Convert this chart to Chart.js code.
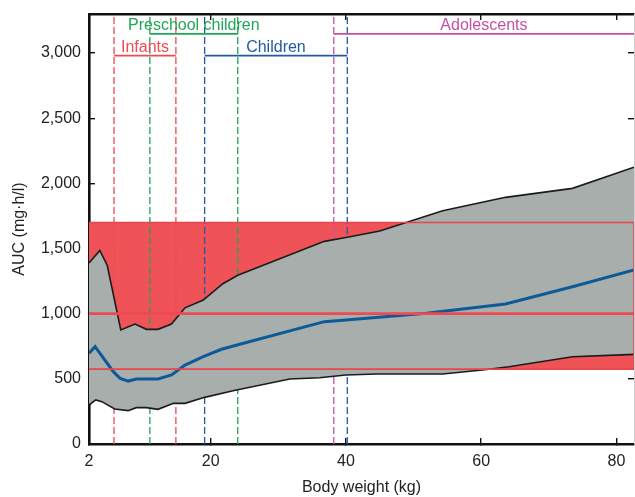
<!DOCTYPE html>
<html>
<head>
<meta charset="utf-8">
<script src="https://cdn.jsdelivr.net/npm/chart.js@4.4.0/dist/chart.umd.min.js"></script>
<style>
  html, body { margin: 0; padding: 0; background: #fff; }
</style>
</head>
<body>
<canvas id="aucChart" width="635" height="497"></canvas>
<script>
// body weight axis (kg) and AUC axis (mg.h/l)
const xMin = 2, xMax = 82.6;
const yMin = 0, yMax = 3300;
const xTicks = [2, 20, 40, 60, 80];
const yTicks = [0, 500, 1000, 1500, 2000, 2500, 3000];

// 90th percentile (upper edge of grey band)
const upperWeight = [2, 3.6, 4.7, 6.7, 8.8, 10.5, 12.2, 14.2, 16.2, 18.9, 21.8, 24, 36.8, 40, 45, 48.9, 54.3, 63.6, 73.5, 82.6];
const upperAuc    = [1390, 1485, 1370, 875, 920, 880, 880, 920, 1045, 1105, 1230, 1295, 1555, 1585, 1635, 1700, 1790, 1893, 1962, 2124];

// median
const medianWeight = [2, 2.9, 5.6, 6.6, 7.8, 9, 12.2, 14.2, 16.2, 18.9, 21.6, 24.3, 36.8, 40, 51.9, 63.6, 73.5, 82.6];
const medianAuc    = [696, 747, 555, 504, 483, 499, 499, 530, 606, 670, 727, 765, 939, 951, 1003, 1074, 1207, 1335];

// 10th percentile (lower edge of grey band)
const lowerWeight = [2, 3, 3.9, 5.8, 7.8, 9, 10.5, 12.2, 14.5, 16.2, 19.1, 23.3, 31.7, 36.1, 40, 44.5, 54.3, 60.2, 64.1, 73.5, 82.6];
const lowerAuc    = [299, 338, 325, 269, 256, 279, 279, 266, 312, 312, 358, 409, 499, 509, 530, 537, 537, 568, 593, 670, 688];

// target range
const bandLow = 575, bandHigh = 1700, targetAuc = 1000;

// age groups (kg ranges) and the level of their brackets
const groupNames  = ['Infants', 'Preschool children', 'Children', 'Adolescents'];
const groupRanges = [[5.7, 14.85], [11.0, 24.0], [19.1, 40.2], [38.2, 82.6]];
const groupLevels = [2980, 3147, 2980, 3147];
const groupColors = ['#ee4a50', '#1ea756', '#2359a0', '#c64fa6'];

const fontFam = "'Liberation Sans', Arial, sans-serif";

function pts(xs, ys) {
  return xs.map((x, i) => ({ x: x, y: ys[i] }));
}

const datasets = [];

// brackets on top
groupRanges.forEach((r, i) => {
  datasets.push({
    data: [{ x: r[0], y: groupLevels[i] }, { x: r[1], y: groupLevels[i] }],
    borderColor: groupColors[i], borderWidth: 1.8, pointRadius: 0, fill: false, order: 0
  });
});

// target range outline and target line
datasets.push({
  data: [{ x: xMin, y: bandHigh }, { x: xMax, y: bandHigh }, { x: xMax, y: bandLow }, { x: xMin, y: bandLow }],
  borderColor: '#e8464c', borderWidth: 1.6, pointRadius: 0, fill: false, order: 1
});
datasets.push({
  data: [{ x: xMin, y: targetAuc }, { x: xMax, y: targetAuc }],
  borderColor: '#ee4a50', borderWidth: 2.8, pointRadius: 0, fill: false, order: 1
});

// median
datasets.push({
  data: pts(medianWeight, medianAuc),
  borderColor: '#0d5a99', borderWidth: 3, pointRadius: 0, fill: false, order: 2
});

// grey band
const lowerIndex = datasets.length + 1;
datasets.push({
  data: pts(upperWeight, upperAuc),
  borderColor: '#1b1b1b', borderWidth: 1.6, pointRadius: 0,
  backgroundColor: '#a8aeac', fill: lowerIndex, order: 4
});
datasets.push({
  data: pts(lowerWeight, lowerAuc),
  borderColor: '#1b1b1b', borderWidth: 1.6, pointRadius: 0, fill: false, order: 3
});

// dashed group boundaries
groupRanges.forEach((r, i) => {
  r.forEach(x => {
    if (x >= xMax) return;
    datasets.push({
      data: [{ x: x, y: yMin }, { x: x, y: yMax }],
      borderColor: groupColors[i], borderWidth: 1.3, borderDash: [7, 3],
      pointRadius: 0, fill: false, order: 5
    });
  });
});

// target range fill
const bandLowIndex = datasets.length + 1;
datasets.push({
  data: [{ x: xMin, y: bandHigh }, { x: xMax, y: bandHigh }],
  borderWidth: 0, borderColor: 'rgba(0,0,0,0)', pointRadius: 0,
  backgroundColor: '#ef5358', fill: bandLowIndex, order: 6
});
datasets.push({
  data: [{ x: xMin, y: bandLow }, { x: xMax, y: bandLow }],
  borderWidth: 0, borderColor: 'rgba(0,0,0,0)', pointRadius: 0, fill: false, order: 7
});

const groupLabels = {
  id: 'groupLabels',
  afterDatasetsDraw(chart) {
    const ctx = chart.ctx;
    const xs = chart.scales.x, ys = chart.scales.y;
    ctx.save();
    ctx.font = '16px ' + fontFam;
    ctx.textAlign = 'center';
    ctx.textBaseline = 'middle';
    groupNames.forEach((name, i) => {
      const cx = (xs.getPixelForValue(groupRanges[i][0]) + xs.getPixelForValue(groupRanges[i][1])) / 2;
      const cy = ys.getPixelForValue(groupLevels[i]) - 8;
      ctx.fillStyle = groupColors[i];
      ctx.fillText(name, cx, cy);
    });
    ctx.restore();
  }
};

const tickGrid = { display: true, drawOnChartArea: false, drawTicks: true, tickLength: -6, color: '#111', lineWidth: 1.4 };
const axisBorder = { display: true, color: '#111', width: 2.6 };
const setXTicks = s => { s.ticks = xTicks.map(v => ({ value: v })); };
const setYTicks = s => { s.ticks = yTicks.map(v => ({ value: v })); };
// fixed box sizes, no label overhang padding
const fixBox = (w, h) => s => {
  if (w !== null) s.width = w;
  if (h !== null) s.height = h;
  s.paddingTop = 0; s.paddingBottom = 0; s.paddingLeft = 0; s.paddingRight = 0;
};

new Chart(document.getElementById('aucChart').getContext('2d'), {
  type: 'line',
  data: { datasets: datasets },
  plugins: [groupLabels],
  options: {
    responsive: false,
    animation: false,
    layout: { padding: 0 },
    elements: { line: { tension: 0 } },
    plugins: {
      legend: { display: false },
      tooltip: { enabled: false }
    },
    scales: {
      x: {
        type: 'linear', position: 'bottom', min: xMin, max: xMax,
        afterBuildTicks: setXTicks,
        afterFit: fixBox(null, 53),
        grid: tickGrid,
        border: axisBorder,
        ticks: { padding: 14, color: '#222', font: { family: fontFam, size: 16 }, maxRotation: 0, autoSkip: false },
        title: { display: true, text: 'Body weight (kg)', color: '#222', font: { family: fontFam, size: 16 }, padding: { top: 0, bottom: 0 } }
      },
      xTop: {
        type: 'linear', position: 'top', min: xMin, max: xMax,
        afterBuildTicks: setXTicks,
        afterFit: fixBox(null, 14),
        grid: tickGrid,
        border: axisBorder,
        ticks: { display: false }
      },
      y: {
        type: 'linear', position: 'left', min: yMin, max: yMax,
        afterBuildTicks: setYTicks,
        afterFit: fixBox(89, null),
        grid: tickGrid,
        border: axisBorder,
        ticks: {
          padding: 14, color: '#222', autoSkip: false,
          font: { family: fontFam, size: 16 },
          callback: v => v.toLocaleString('en-US')
        },
        title: { display: true, text: 'AUC (mg\u00b7h/l)', color: '#222', font: { family: fontFam, size: 16 }, padding: { top: 10, bottom: 0 } }
      },
      yRight: {
        type: 'linear', position: 'right', min: yMin, max: yMax,
        afterBuildTicks: setYTicks,
        afterFit: fixBox(1, null),
        grid: tickGrid,
        border: { display: true, color: '#cfcfcf', width: 1 },
        ticks: { display: false }
      }
    }
  }
});
</script>
</body>
</html>
